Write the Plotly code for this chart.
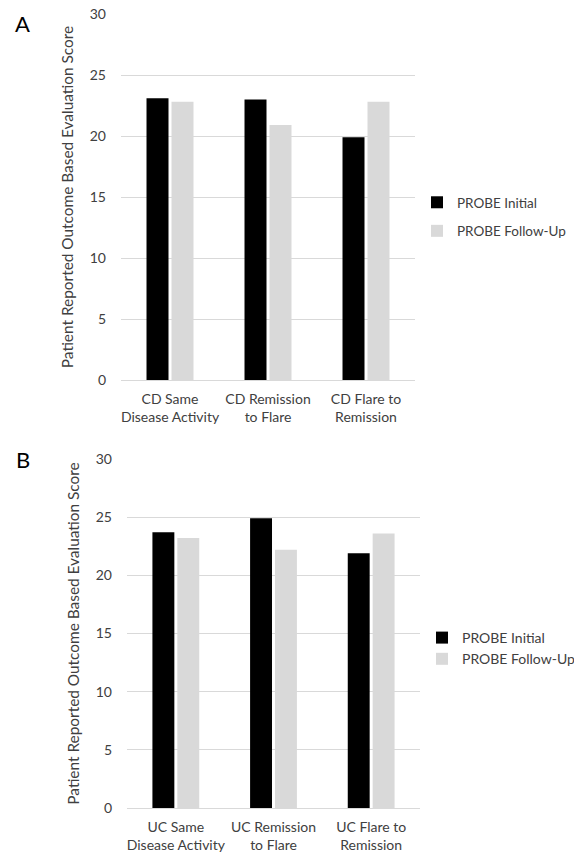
import plotly.graph_objects as go

W, H = 582, 857
M = 8  # default page margin around the figure (top/left)
FW, FH = W - M, H - M

cats_a = ["CD Same<br>Disease Activity", "CD Remission<br>to Flare", "CD Flare to<br>Remission"]
cats_b = ["UC Same<br>Disease Activity", "UC Remission<br>to Flare", "UC Flare to<br>Remission"]
initial_a = [23.1, 23.0, 19.9]
followup_a = [22.8, 20.9, 22.8]
initial_b = [23.7, 24.9, 21.9]
followup_b = [23.2, 22.2, 23.6]
yticks = [0, 5, 10, 15, 20, 25, 30]
series_names = ["PROBE Initial", "PROBE Follow-Up"]
colors = ["#000000", "#d9d9d9"]

FONT = "Lato"
TXT = "#404040"

def px_x(x):
    return (x - M) / FW

def px_y(y):
    return 1 - (y - M) / FH

fig = go.Figure()
fig.add_trace(go.Bar(x=cats_a, y=initial_a, name=series_names[0], marker_color=colors[0],
                     marker_line_width=0, xaxis="x", yaxis="y", legend="legend", legendgroup="a1"))
fig.add_trace(go.Bar(x=cats_a, y=followup_a, name=series_names[1], marker_color=colors[1],
                     marker_line_width=0, xaxis="x", yaxis="y", legend="legend", legendgroup="a2"))
fig.add_trace(go.Bar(x=cats_b, y=initial_b, name=series_names[0], marker_color=colors[0],
                     marker_line_width=0, xaxis="x2", yaxis="y2", legend="legend2", legendgroup="b1"))
fig.add_trace(go.Bar(x=cats_b, y=followup_b, name=series_names[1], marker_color=colors[1],
                     marker_line_width=0, xaxis="x2", yaxis="y2", legend="legend2", legendgroup="b2"))

ytitle = "Patient Reported Outcome Based Evaluation Score"
common_y = dict(range=[0, 30], tickvals=yticks, showgrid=True, gridcolor="#d9d9d9", gridwidth=1,
                zeroline=False, showline=False, ticks="", ticklabelstandoff=14,
                ticklabeloverflow="allow",
                tickfont=dict(family=FONT, size=14, color=TXT),
                title=dict(text=ytitle, font=dict(family=FONT, size=15.4, color=TXT), standoff=12),
                fixedrange=True)
common_x = dict(showline=True, linecolor="#d9d9d9", linewidth=1, ticks="", showgrid=False,
                ticklabelstandoff=6,
                tickfont=dict(family=FONT, size=14, color=TXT), fixedrange=True)

fig.update_layout(
    width=FW, height=FH,
    margin=dict(l=0, r=0, t=0, b=0, autoexpand=False),
    paper_bgcolor="white", plot_bgcolor="white",
    barmode="group", bargap=0.49, bargroupgap=0.12,
    xaxis=dict(domain=[px_x(121), px_x(415)], anchor="y", **common_x),
    yaxis=dict(domain=[px_y(380), px_y(14)], anchor="x", **common_y),
    xaxis2=dict(domain=[px_x(127), px_x(420)], anchor="y2", **common_x),
    yaxis2=dict(domain=[px_y(808), px_y(459)], anchor="x2", **common_y),
    legend=dict(x=px_x(417), y=px_y(187), xanchor="left", yanchor="top",
                font=dict(family=FONT, size=13.5, color=TXT), tracegroupgap=8,
                traceorder="grouped", itemwidth=30, bgcolor="rgba(0,0,0,0)"),
    legend2=dict(x=px_x(422), y=px_y(622), xanchor="left", yanchor="top",
                 font=dict(family=FONT, size=14, color=TXT), tracegroupgap=0,
                 traceorder="grouped", itemwidth=30, bgcolor="rgba(0,0,0,0)"),
    annotations=[
        dict(text="A", x=px_x(13), y=px_y(23), xref="paper", yref="paper", showarrow=False,
             xanchor="left", yanchor="middle", font=dict(family=FONT, size=22, color="#000")),
        dict(text="B", x=px_x(14), y=px_y(459), xref="paper", yref="paper", showarrow=False,
             xanchor="left", yanchor="middle", font=dict(family=FONT, size=22, color="#000")),
    ],
)

fig.write_html("out.html")
